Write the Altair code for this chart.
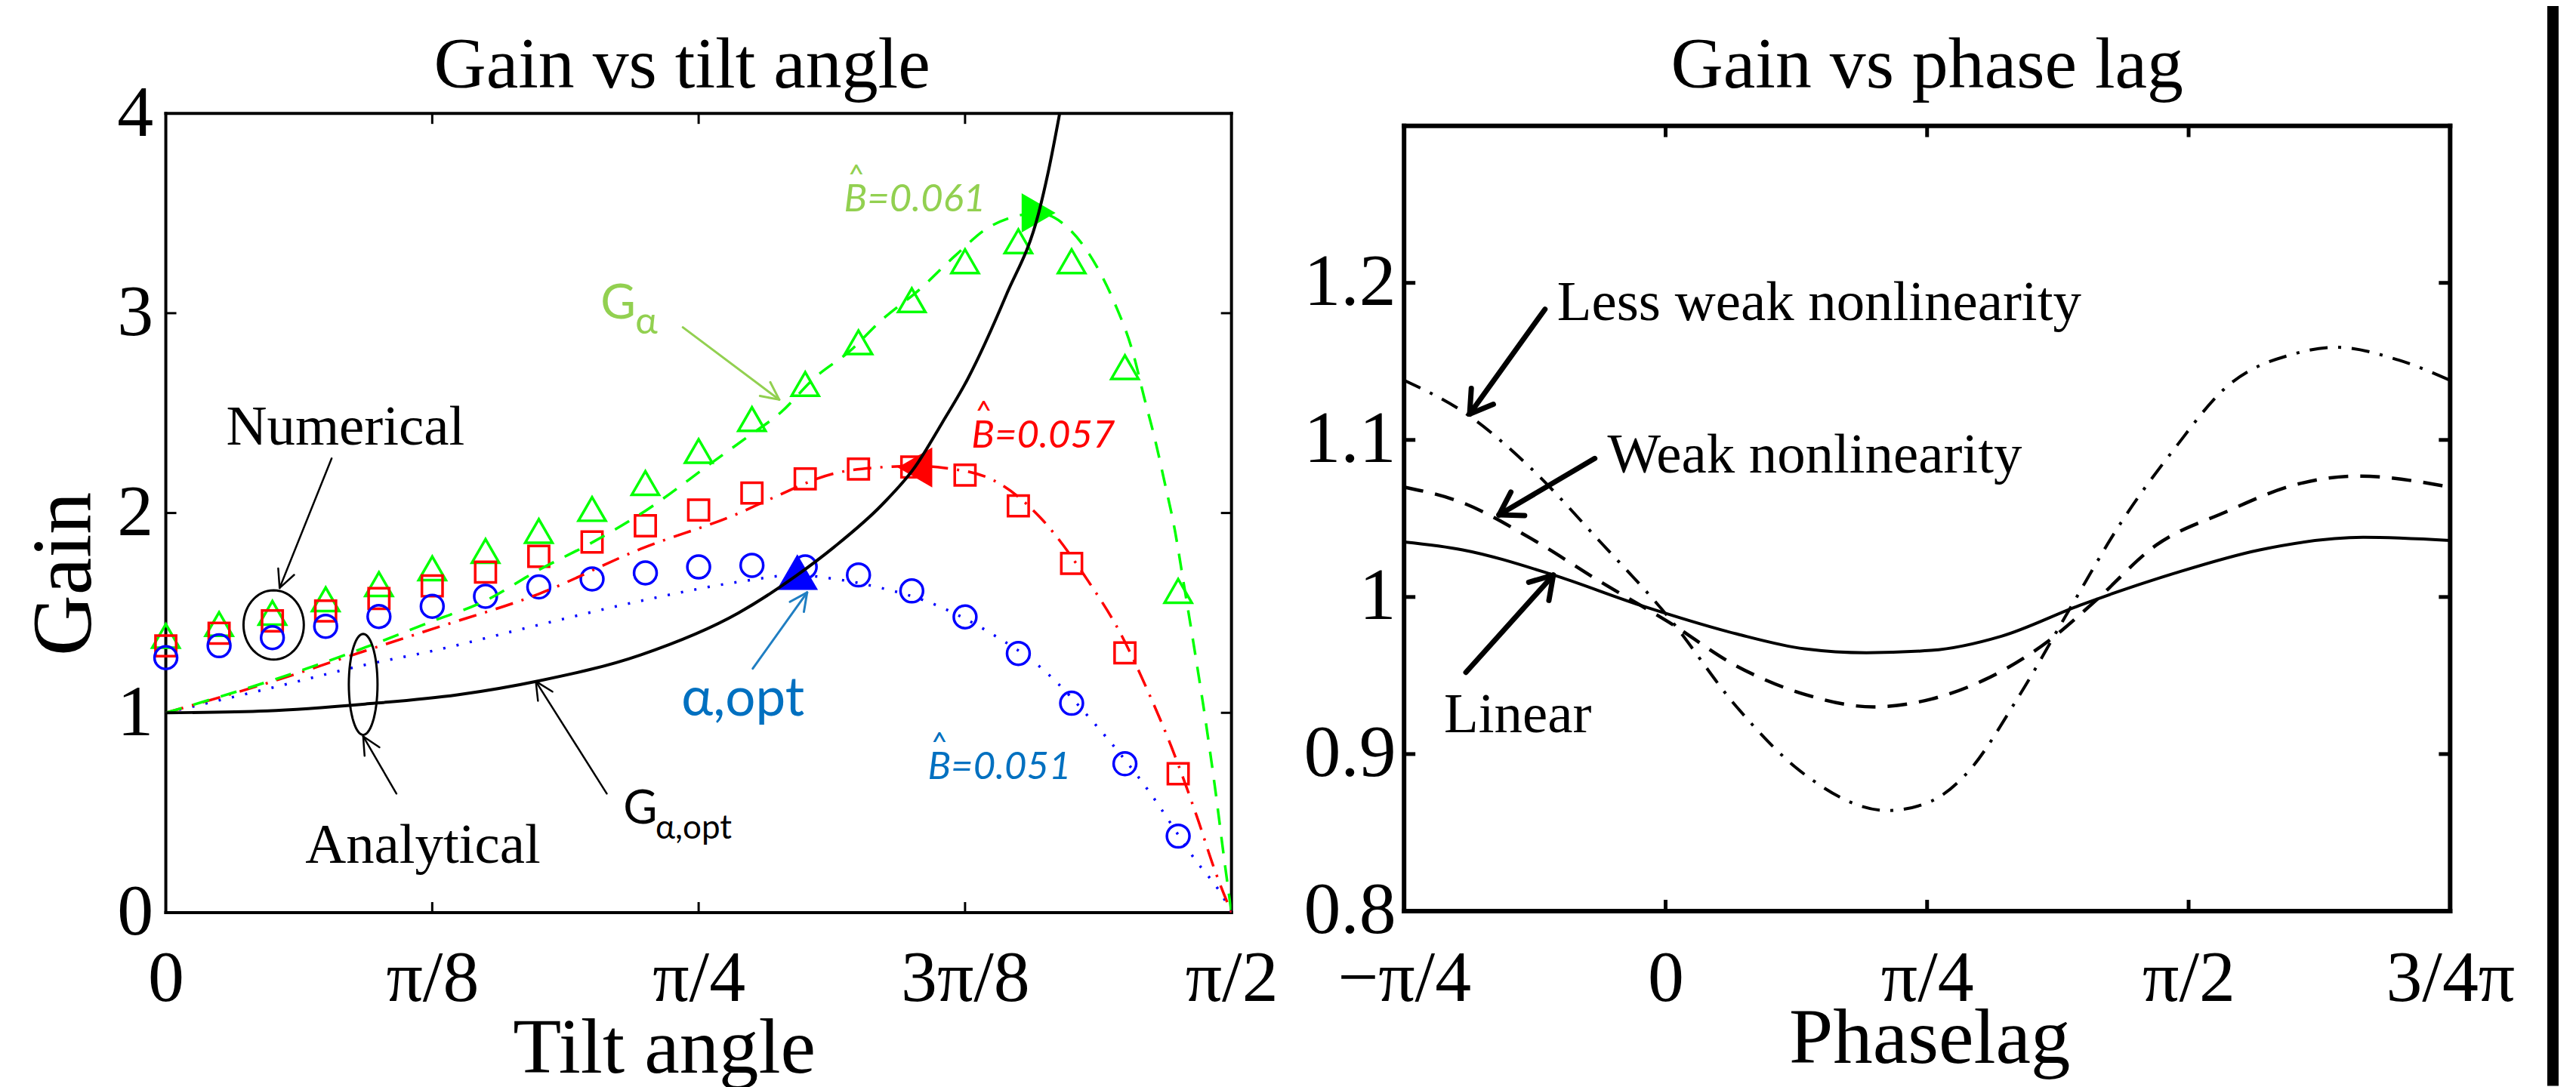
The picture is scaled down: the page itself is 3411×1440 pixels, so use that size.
import math
import numpy as np
import pandas as pd
import altair as alt

SERIF = "Liberation Serif"
SANS = "Lato"

# ---------------- Left panel: Gain vs tilt angle (x in units of pi) ----------------
NUM_X = [0.000, 0.025, 0.050, 0.075, 0.100, 0.125, 0.150, 0.175, 0.200, 0.225,
         0.250, 0.275, 0.300, 0.325, 0.350, 0.375, 0.400, 0.425, 0.450, 0.475]
NUM_B051 = [1.276, 1.336, 1.376, 1.433, 1.482, 1.533, 1.583, 1.630, 1.670, 1.700,
            1.730, 1.738, 1.730, 1.690, 1.610, 1.480, 1.297, 1.048, 0.745, 0.383]
NUM_B057 = [1.335, 1.398, 1.460, 1.510, 1.572, 1.635, 1.704, 1.783, 1.855, 1.936,
            2.015, 2.100, 2.171, 2.220, 2.230, 2.190, 2.036, 1.748, 1.300, 0.695]
NUM_B061 = [1.385, 1.444, 1.500, 1.568, 1.644, 1.723, 1.810, 1.910, 2.020, 2.150,
            2.310, 2.470, 2.646, 2.854, 3.065, 3.260, 3.360, 3.260, 2.730, 1.610]

AN_B061_X = [0.0, 0.0516, 0.0935, 0.1252, 0.1492, 0.1750, 0.1991, 0.2249, 0.2560, 0.2723,
             0.2885, 0.3048, 0.3211, 0.3356, 0.3536, 0.3706, 0.3868, 0.4095, 0.4240, 0.4367,
             0.4452, 0.4537, 0.4590, 0.4643, 0.4685, 0.4735, 0.4774, 0.4820, 0.4880, 0.4926,
             0.4968, 0.5]
AN_B061_Y = [1.0, 1.169, 1.327, 1.459, 1.557, 1.715, 1.847, 2.010, 2.250, 2.376,
             2.503, 2.680, 2.812, 2.963, 3.118, 3.290, 3.434, 3.500, 3.420, 3.235,
             3.050, 2.805, 2.580, 2.360, 2.160, 1.910, 1.660, 1.360, 0.950, 0.600,
             0.250, 0.0]
AN_B057_X = [0.0, 0.0516, 0.0935, 0.1252, 0.1750, 0.2228, 0.2691, 0.2836, 0.3136, 0.3345,
             0.3515, 0.3656, 0.3883, 0.4105, 0.4328, 0.4477, 0.4611, 0.4717, 0.4837, 0.4926, 0.5]
AN_B057_Y = [1.0, 1.162, 1.310, 1.420, 1.595, 1.820, 2.000, 2.070, 2.198, 2.228,
             2.235, 2.225, 2.164, 1.975, 1.659, 1.402, 1.101, 0.833, 0.483, 0.200, 0.0]
AN_B051_X = [0.0, 0.0516, 0.0935, 0.1252, 0.1750, 0.2228, 0.2687, 0.2963, 0.3105, 0.3327,
             0.3582, 0.3865, 0.4119, 0.4360, 0.4611, 0.4820, 0.4972, 0.5]
AN_B051_Y = [1.0, 1.130, 1.240, 1.310, 1.440, 1.560, 1.655, 1.690, 1.675, 1.632,
             1.553, 1.402, 1.214, 0.943, 0.610, 0.279, 0.057, 0.0]
GOPT_X = [0.0, 0.0477, 0.0935, 0.1368, 0.1750, 0.2228, 0.2687, 0.2963, 0.3136, 0.3359,
          0.3515, 0.3642, 0.3762, 0.3943, 0.4095, 0.4141, 0.4194]
GOPT_Y = [1.0, 1.010, 1.044, 1.090, 1.160, 1.290, 1.500, 1.690, 1.830, 2.040,
          2.230, 2.450, 2.670, 3.090, 3.500, 3.710, 4.000]
OPT_X = [0.2963, 0.3515, 0.4095]
OPT_Y = [1.704, 2.228, 3.502]

# ---------------- Right panel: Gain vs phase lag (x in units of pi) ----------------
LIN_X = [-0.25, -0.194, -0.109, -0.024, 0.068, 0.133, 0.192, 0.254, 0.321, 0.396,
         0.486, 0.568, 0.667, 0.75]
LIN_Y = [1.035, 1.030, 1.0144, 0.9947, 0.9765, 0.967, 0.9645, 0.966, 0.975, 0.9947,
         1.015, 1.030, 1.038, 1.036]
WEAK_X = [-0.25, -0.194, -0.128, -0.063, 0.003, 0.068, 0.133, 0.199, 0.254, 0.304,
          0.370, 0.410, 0.469, 0.535, 0.602, 0.661, 0.75]
WEAK_Y = [1.070, 1.060, 1.037, 1.010, 0.984, 0.956, 0.938, 0.930, 0.935, 0.947,
          0.974, 0.997, 1.033, 1.054, 1.0715, 1.077, 1.070]
LESS_X = [-0.25, -0.187, -0.128, -0.063, 0.003, 0.068, 0.133, 0.212, 0.254, 0.287,
          0.337, 0.386, 0.436, 0.486, 0.535, 0.602, 0.641, 0.700, 0.75]
LESS_Y = [1.138, 1.115, 1.0815, 1.0355, 0.987, 0.930, 0.887, 0.864, 0.870, 0.887,
          0.936, 0.992, 1.048, 1.094, 1.133, 1.155, 1.159, 1.151, 1.138]

# ---------------- Ticks and titles ----------------
L_XTICKS = [0, 0.125, 0.25, 0.375, 0.5]
L_XLABELS = ["0", "π/8", "π/4", "3π/8", "π/2"]
L_YTICKS = [0, 1, 2, 3, 4]
L_YLABELS = ["0", "1", "2", "3", "4"]
R_XTICKS = [-0.25, 0, 0.25, 0.5, 0.75]
R_XLABELS = ["−π/4", "0", "π/4", "π/2", "3/4π"]
R_YTICKS = [0.8, 0.9, 1.0, 1.1, 1.2]
R_YLABELS = ["0.8", "0.9", "1", "1.1", "1.2"]
TITLES = ["Gain vs tilt angle", "Gain vs phase lag"]

# ---------------- Layout ----------------
LW, LH = 1414, 1061
RW, RH = 1388, 1059
L_XD = [0, 0.5]
L_YD = [0, 4]
R_XD = [-0.25, 0.75]
R_YD = [0.8, 0.8 + RH / 2085.0]
R_TOP = 1.3
LSX, LSY = LW / 0.5, LH / 4.0
RSX, RSY = RW / 1.0, 2085.0


def label_expr(vals, labels):
    expr = "''"
    for v, l in reversed(list(zip(vals, labels))):
        expr = f"abs(datum.value - ({v})) < 1e-6 ? '{l}' : {expr}"
    return expr


def axis(vals, labels, title, size, pad, **kw):
    base = dict(values=vals, labelExpr=label_expr(vals, labels), domain=False, ticks=False,
                grid=False, labelFont=SERIF, labelFontSize=size, labelColor="black",
                labelPadding=pad, labelFlush=False, labelOverlap=False,
                titleFont=SERIF, titleFontWeight="normal", titleColor="black")
    base["title"] = title
    base.update(kw)
    return alt.Axis(**base)


AX_LX = axis(L_XTICKS, L_XLABELS, "Tilt angle", 96, 41, labelBaseline="top",
             titleFontSize=105, titleX=661, titleY=212, titleBaseline="alphabetic",
             titleAlign="center")
AX_LY = axis(L_YTICKS, L_YLABELS, "Gain", 96, 17, titleFontSize=112,
             titleAngle=270, titleX=-100, titleY=611, titleBaseline="alphabetic",
             titleAlign="center")
AX_RX = axis(R_XTICKS, R_XLABELS, "Phaselag", 96, 43, labelBaseline="top",
             titleFontSize=105, titleX=697, titleY=201, titleBaseline="alphabetic",
             titleAlign="center")
AX_RY = axis(R_YTICKS, R_YLABELS, None, 98, 11)

XL = alt.X("x:Q", scale=alt.Scale(domain=L_XD, nice=False, zero=False), axis=AX_LX)
YL = alt.Y("y:Q", scale=alt.Scale(domain=L_YD, nice=False, zero=False), axis=AX_LY)
XR = alt.X("x:Q", scale=alt.Scale(domain=R_XD, nice=False, zero=False), axis=AX_RX)
YR = alt.Y("y:Q", scale=alt.Scale(domain=R_YD, nice=False, zero=False), axis=AX_RY)


def xy(xs, ys):
    return pd.DataFrame({"x": xs, "y": ys})


def segs(rows):
    return pd.DataFrame(rows, columns=["x", "y", "x2", "y2"])


def arrows(tails, tips, sx, sy, hl, ha):
    rows = []
    for (tx, ty), (px, py) in zip(tails, tips):
        rows.append((tx, ty, px, py))
        dx = (tx - px) * sx
        dy = -(ty - py) * sy
        d = math.hypot(dx, dy)
        ux, uy = dx / d, dy / d
        for s in (1, -1):
            a = math.radians(ha) * s
            rx = ux * math.cos(a) - uy * math.sin(a)
            ry = ux * math.sin(a) + uy * math.cos(a)
            rows.append((px, py, px + rx * hl / sx, py - ry * hl / sy))
    return segs(rows)


def seg_layer(df, X, Y, color, width, cap="round"):
    return alt.Chart(df).mark_rule(color=color, strokeWidth=width, strokeCap=cap).encode(
        x=X, y=Y, x2="x2:Q", y2="y2:Q")


def text_layer(xs, ys, texts, X, Y, font, size, color, style="normal", align="left"):
    df = pd.DataFrame({"x": xs, "y": ys, "t": texts})
    return alt.Chart(df).mark_text(font=font, fontSize=size, color=color, align=align,
                                   baseline="alphabetic", fontStyle=style).encode(
        x=X, y=Y, text="t:N")


def ellipse_path(ax):
    ts = np.linspace(0, 2 * math.pi, 61)
    pts = [f"{ax * math.cos(t):.4f},{math.sin(t):.4f}" for t in ts]
    return "M" + "L".join(pts) + "Z"


# ---------------- Left panel layers ----------------
left_layers = []
left_layers.append(seg_layer(segs([(0, 0, 0.5, 0), (0, 4, 0.5, 4), (0, 0, 0, 4), (0.5, 0, 0.5, 4)]),
                             XL, YL, "black", 4, "square"))
tk = pd.DataFrame({"x": [0.125, 0.25, 0.375]})
left_layers.append(alt.Chart(tk).mark_rule(color="black", strokeWidth=3).encode(
    x=XL, y=alt.value(LH), y2=alt.value(LH - 14)))
left_layers.append(alt.Chart(tk).mark_rule(color="black", strokeWidth=3).encode(
    x=XL, y=alt.value(0), y2=alt.value(14)))
tky = pd.DataFrame({"y": [1, 2, 3]})
left_layers.append(alt.Chart(tky).mark_rule(color="black", strokeWidth=3).encode(
    y=YL, x=alt.value(0), x2=alt.value(14)))
left_layers.append(alt.Chart(tky).mark_rule(color="black", strokeWidth=3).encode(
    y=YL, x=alt.value(LW), x2=alt.value(LW - 14)))

# numerical markers
left_layers.append(alt.Chart(xy(NUM_X, NUM_B061)).mark_point(
    shape="triangle-up", size=1300, filled=False, strokeWidth=3.5, color="#00FF00", opacity=1
).encode(x=XL, y=YL))
left_layers.append(alt.Chart(xy(NUM_X, NUM_B057)).mark_point(
    shape="square", size=750, filled=False, strokeWidth=3.5, color="#FF0000", opacity=1
).encode(x=XL, y=YL))
left_layers.append(alt.Chart(xy(NUM_X, NUM_B051)).mark_point(
    shape="circle", size=900, filled=False, strokeWidth=3.5, color="#0000FF", opacity=1
).encode(x=XL, y=YL))

# analytical lines
left_layers.append(alt.Chart(xy(AN_B051_X, AN_B051_Y)).mark_line(
    color="#0000FF", strokeWidth=3.5, strokeDash=[3, 15], interpolate="monotone", clip=True
).encode(x=XL, y=YL))
left_layers.append(alt.Chart(xy(AN_B057_X, AN_B057_Y)).mark_line(
    color="#FF0000", strokeWidth=3.5, strokeDash=[24, 12, 3, 12], interpolate="monotone", clip=True
).encode(x=XL, y=YL))
left_layers.append(alt.Chart(xy(AN_B061_X, AN_B061_Y)).mark_line(
    color="#00FF00", strokeWidth=3.5, strokeDash=[22, 16], interpolate="monotone", clip=True
).encode(x=XL, y=YL))

# optimum markers
for (xv, yv, shp, col, sz) in zip(OPT_X, OPT_Y, ["triangle-up", "triangle-left", "triangle-right"],
                                   ["#0000FF", "#FF0000", "#00FF00"], [3000, 2800, 2700]):
    left_layers.append(alt.Chart(xy([xv], [yv])).mark_point(
        shape=shp, size=sz, filled=True, color=col, opacity=1).encode(x=XL, y=YL))

# G_alpha,opt curve
left_layers.append(alt.Chart(xy(GOPT_X, GOPT_Y)).mark_line(
    color="black", strokeWidth=4, interpolate="monotone", clip=True).encode(x=XL, y=YL))

# ellipses
ELL_X = [0.0506, 0.0926]
ELL_Y = [1.440, 1.1423]
left_layers.append(alt.Chart(xy([ELL_X[0]], [ELL_Y[0]])).mark_point(
    shape=ellipse_path(0.87), size=92 ** 2, filled=False, color="black", strokeWidth=3, opacity=1
).encode(x=XL, y=YL))
left_layers.append(alt.Chart(xy([ELL_X[1]], [ELL_Y[1]])).mark_point(
    shape=ellipse_path(0.284), size=134 ** 2, filled=False, color="black", strokeWidth=3, opacity=1
).encode(x=XL, y=YL))

# arrows
BLACK_TAILS = [(0.0778, 2.2734), (0.1082, 0.5957), (0.2069, 0.5957)]
BLACK_TIPS = [(0.0534, 1.6249), (0.0926, 0.8822), (0.1736, 1.1574)]
left_layers.append(seg_layer(arrows(BLACK_TAILS, BLACK_TIPS, LSX, LSY, 26, 26), XL, YL, "black", 2.5))
left_layers.append(seg_layer(arrows([(0.2426, 2.9293)], [(0.2878, 2.5674)], LSX, LSY, 26, 26),
                             XL, YL, "#92D050", 3))
left_layers.append(seg_layer(arrows([(0.2754, 1.2215)], [(0.3009, 1.6023)], LSX, LSY, 26, 26),
                             XL, YL, "#1F7EC2", 3))

# texts
left_layers.append(text_layer([0.2422], [4.128], [TITLES[0]], XL, YL, SERIF, 96, "black",
                              align="center"))
left_layers.append(text_layer([0.0283, 0.0654], [2.341, 0.2488], ["Numerical", "Analytical"],
                              XL, YL, SERIF, 75, "black"))
left_layers.append(text_layer([0.2146], [0.4449], ["G"], XL, YL, SANS, 62, "black"))
left_layers.append(text_layer([0.2298], [0.3695], ["α,opt"], XL, YL, SANS, 44, "black"))
left_layers.append(text_layer([0.2040], [2.9745], ["G"], XL, YL, SANS, 64, "#92D050"))
left_layers.append(text_layer([0.2203], [2.8991], ["α"], XL, YL, SANS, 50, "#92D050"))
left_layers.append(text_layer([0.2419], [0.9878], ["α,opt"], XL, YL, SANS, 71, "#0070C0"))
B_TXT = ["B=0.061", "B=0.057", "B=0.051"]
B_X = [0.3182, 0.3780, 0.3575]
B_Y = [3.5099, 2.3261, 0.6673]
B_HAT_X = [0.3195, 0.3793, 0.3585]
B_COL = ["#92D050", "#FF0000", "#0070C0"]
for t, bx, by, hx, c in zip(B_TXT, B_X, B_Y, B_HAT_X, B_COL):
    left_layers.append(text_layer([bx], [by], [t], XL, YL, SANS, 51, c, "italic"))
    left_layers.append(text_layer([hx], [by + 33 / LSY], ["^"], XL, YL, SANS, 40, c, "italic"))

left = alt.layer(*left_layers).properties(width=LW, height=LH)

# ---------------- Right panel layers ----------------
right_layers = []
right_layers.append(seg_layer(segs([(-0.25, 0.8, 0.75, 0.8), (-0.25, R_TOP, 0.75, R_TOP),
                                    (-0.25, 0.8, -0.25, R_TOP), (0.75, 0.8, 0.75, R_TOP)]),
                              XR, YR, "black", 6, "square"))
TL = 15
rt_rows = []
for v in [0, 0.25, 0.5]:
    rt_rows.append((v, 0.8, v, 0.8 + TL / RSY))
    rt_rows.append((v, R_TOP, v, R_TOP - TL / RSY))
for v in [0.9, 1.0, 1.1, 1.2]:
    rt_rows.append((-0.25, v, -0.25 + TL / RSX, v))
    rt_rows.append((0.75, v, 0.75 - TL / RSX, v))
right_layers.append(seg_layer(segs(rt_rows), XR, YR, "black", 5, "butt"))

right_layers.append(alt.Chart(xy(LIN_X, LIN_Y)).mark_line(
    color="black", strokeWidth=4, interpolate="monotone").encode(x=XR, y=YR))
right_layers.append(alt.Chart(xy(WEAK_X, WEAK_Y)).mark_line(
    color="black", strokeWidth=4.5, strokeDash=[26, 16], interpolate="monotone").encode(x=XR, y=YR))
right_layers.append(alt.Chart(xy(LESS_X, LESS_Y)).mark_line(
    color="black", strokeWidth=4, strokeDash=[24, 14, 4, 14], interpolate="monotone").encode(x=XR, y=YR))

R_TAILS = [(-0.1153, 1.1832), (-0.0677, 1.0882), (-0.1909, 0.952)]
R_TIPS = [(-0.1873, 1.1165), (-0.1592, 1.0523), (-0.1073, 1.0139)]
right_layers.append(seg_layer(arrows(R_TAILS, R_TIPS, RSX, RSY, 34, 32), XR, YR, "black", 7))
right_layers.append(text_layer([-0.1037, -0.0555, -0.2118], [1.1765, 1.0791, 0.9137],
                               ["Less weak nonlinearity", "Weak nonlinearity", "Linear"],
                               XR, YR, SERIF, 75, "black"))
right_layers.append(text_layer([0.25], [1.3242], [TITLES[1]], XR, YR, SERIF, 96, "black",
                               align="center"))
# black border strip at the right edge of the picture
right_layers.append(seg_layer(segs([(0.8483, 1.3794, 0.8483, 0.6887)]), XR, YR, "black", 15, "butt"))

right = alt.layer(*right_layers).properties(width=RW, height=RH)

chart = alt.hconcat(left, right, spacing=229, bounds="flush").properties(
    autosize=alt.AutoSizeParams(type="none"),
    padding={"left": 212, "top": 141, "right": 3190, "bottom": 1291},
    background="white",
).configure_view(stroke=None)

chart.save("out.html", embed_options={"renderer": "svg", "actions": False})
